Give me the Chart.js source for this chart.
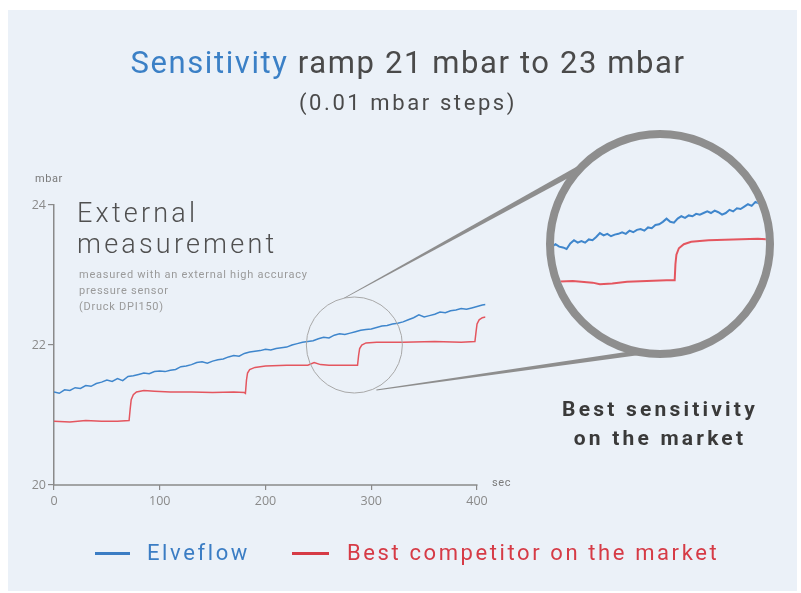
<!DOCTYPE html>
<html>
<head>
<meta charset="utf-8">
<script src="https://cdn.jsdelivr.net/npm/chart.js@4.4.1/dist/chart.umd.min.js"></script>
<style>
  html, body { margin: 0; padding: 0; background: #fff; }
  body { width: 801px; height: 593px; position: relative; overflow: hidden; font-family: Roboto, "Open Sans", sans-serif; }
  #panel { position: absolute; left: 8px; top: 10px; width: 789px; height: 581px; background: #ebf1f8; }
  #main { position: absolute; left: 0; top: 0; }
  .txt { position: absolute; white-space: nowrap; }
  #title { left: 108px; width: 600px; top: 42px; line-height: 42px; font-size: 31px; text-align: center; color: #4a4a4a; letter-spacing: 1.6px; }
  #title span { color: #3b80c6; }
  #subtitle { left: 108px; width: 600px; top: 89px; line-height: 28px; font-size: 22px; text-align: center; color: #4a4a4a; letter-spacing: 2.6px; }
  #ext { left: 77px; top: 198px; line-height: 31px; font-size: 27px; color: #505050; letter-spacing: 3.2px; font-weight: 300; }
  #extNote { left: 79px; top: 267px; line-height: 16px; font-size: 11px; color: #9a9a9a; letter-spacing: 0.75px; }
  #best { left: 530px; width: 260px; top: 395px; line-height: 29px; font-size: 21px; font-weight: 700; text-align: center; color: #3a3a3a; letter-spacing: 3.2px; }
  #unitY { left: 35px; top: 172px; font-size: 11px; color: #7a7a7a; letter-spacing: 0.6px; }
  #unitX { left: 492px; top: 476px; font-size: 11px; color: #7a7a7a; letter-spacing: 0.6px; }
  .legend { position: absolute; top: 538px; line-height: 30px; font-size: 22px; letter-spacing: 2.6px; }
  .legend i { position: absolute; top: 14px; height: 2.5px; }
  #lens { position: absolute; left: 546px; top: 130px; width: 228px; height: 228px; box-sizing: border-box;
          border: 8px solid #8e8e8e; border-radius: 50%; overflow: hidden; background: #ebf1f8; }
  #lens canvas { position: absolute; left: 0; top: 0; }
</style>
</head>
<body>
<div id="panel"></div>
<canvas id="main" width="801" height="593"></canvas>
<div id="lens"><canvas id="inset" width="212" height="212"></canvas></div>

<div class="txt" id="title"><span>Sensitivity</span> ramp 21 mbar to 23 mbar</div>
<div class="txt" id="subtitle">(0.01 mbar steps)</div>
<div class="txt" id="ext">External<br>measurement</div>
<div class="txt" id="extNote">measured with an external high accuracy<br>pressure sensor<br>(Druck DPI150)</div>
<div class="txt" id="best">Best sensitivity<br>on the market</div>
<div class="txt" id="unitY">mbar</div>
<div class="txt" id="unitX">sec</div>
<div class="legend" style="left:95px;color:#3b7dc4"><i style="left:0;width:35px;background:#3b7dc4"></i><span style="margin-left:52px">Elveflow</span></div>
<div class="legend" style="left:292px;color:#d63b46"><i style="left:0;width:37px;background:#d63b46"></i><span style="margin-left:55px">Best competitor on the market</span></div>

<script>
// main plot: time in seconds, pressure in mbar
let blueTime = [0, 5, 10, 15, 20, 25, 30, 35, 40, 45, 50, 55, 60, 65, 70, 75, 80, 85, 90, 95,
    100, 105, 110, 115, 120, 125, 130, 135, 140, 145, 150, 155, 160, 165, 170, 175, 180, 185, 190, 195,
    200, 205, 210, 215, 220, 225, 230, 235, 240, 245, 250, 255, 260, 265, 270, 275, 280, 285, 290, 295,
    300, 305, 310, 315, 320, 325, 330, 335, 340, 345, 350, 355, 360, 365, 370, 375, 380, 385, 390, 395,
    400, 405, 408];
let blueValues = [21.33, 21.31, 21.36, 21.35, 21.39, 21.38, 21.42, 21.41, 21.45, 21.47, 21.50, 21.48, 21.52, 21.49, 21.55, 21.56, 21.58, 21.60, 21.59, 21.62,
    21.63, 21.62, 21.64, 21.65, 21.69, 21.70, 21.72, 21.75, 21.76, 21.74, 21.77, 21.79, 21.80, 21.83, 21.85, 21.84, 21.88, 21.90, 21.91, 21.92,
    21.94, 21.93, 21.95, 21.96, 21.97, 22.00, 22.02, 22.04, 22.05, 22.06, 22.09, 22.11, 22.10, 22.14, 22.16, 22.15, 22.17, 22.19, 22.21, 22.22,
    22.23, 22.25, 22.27, 22.28, 22.30, 22.31, 22.33, 22.36, 22.39, 22.43, 22.40, 22.42, 22.44, 22.47, 22.46, 22.49, 22.50, 22.52, 22.51, 22.53,
    22.55, 22.57, 22.58];

let redTime = [0, 15, 30, 45, 60, 71, 72, 73, 75, 78, 85, 95, 110, 130, 150, 170, 180, 181, 182, 183,
    185, 190, 200, 220, 240, 246, 252, 260, 275, 287, 288, 289, 291, 295, 305, 330, 360, 385, 398, 399,
    400, 402, 405, 408];
let redValues = [20.91, 20.90, 20.92, 20.91, 20.91, 20.92, 21.08, 21.22, 21.29, 21.33, 21.35, 21.34, 21.33, 21.33, 21.32, 21.33, 21.32, 21.31, 21.50, 21.60,
    21.65, 21.68, 21.70, 21.71, 21.71, 21.75, 21.72, 21.71, 21.71, 21.71, 21.85, 21.95, 22.00, 22.03, 22.04, 22.04, 22.05, 22.04, 22.05, 22.18,
    22.30, 22.36, 22.39, 22.40];

let xTicks = [0, 100, 200, 300, 400];
let yTicks = [20, 22, 24];

// zoomed view inside the magnifier
let insetBlueTime = [240, 241.5, 243, 244.5, 246, 247.5, 249, 250.5, 252, 253.5, 255, 256.5, 258, 259.5, 261, 262.5, 264, 265.5, 267, 268.5,
    270, 271.5, 273, 274.5, 276, 277.5, 279, 280.5, 282, 283.5, 285, 286.5, 288, 289.5, 291, 292.5, 294, 295.5, 297, 298.5,
    300, 301.5, 303, 304.5, 306, 307.5, 309, 310.5, 312, 313.5, 315, 316.5, 318, 319.5, 321, 322.5, 324, 325.5, 327, 328.5, 330];
let insetBlueValues = [22.07, 22.06, 22.075, 22.06, 22.055, 22.045, 22.08, 22.10, 22.085, 22.095, 22.085, 22.105, 22.10, 22.12, 22.145, 22.13, 22.14, 22.125, 22.135, 22.14,
    22.15, 22.14, 22.16, 22.15, 22.165, 22.17, 22.16, 22.18, 22.175, 22.195, 22.20, 22.215, 22.235, 22.215, 22.21, 22.235, 22.25, 22.24, 22.255, 22.25,
    22.265, 22.26, 22.27, 22.28, 22.27, 22.285, 22.275, 22.26, 22.27, 22.29, 22.28, 22.30, 22.295, 22.31, 22.325, 22.315, 22.34, 22.33, 22.35, 22.345, 22.36];
let insetRedTime = [242, 250, 258, 261, 266, 272, 280, 288, 291.3, 291.6, 292, 293, 295, 298, 305, 315, 325, 330];
let insetRedValues = [21.84, 21.845, 21.835, 21.825, 21.83, 21.84, 21.845, 21.85, 21.85, 21.95, 22.01, 22.05, 22.075, 22.09, 22.10, 22.105, 22.11, 22.105];

const BLUE = '#3f86cc';
const RED = '#e4565f';
const AXIS = '#8a8a8a';

Chart.defaults.font.family = '"Open Sans", Roboto, sans-serif';

function toPoints(xs, ys) {
    return xs.map((x, i) => ({ x: x, y: ys[i] }));
}

// thin-to-thick connector line of the magnifier
function taper(ctx, a, b, w1, w2) {
    let dx = b[0] - a[0], dy = b[1] - a[1];
    let len = Math.hypot(dx, dy);
    let nx = -dy / len, ny = dx / len;
    ctx.beginPath();
    ctx.moveTo(a[0] + nx * w1 / 2, a[1] + ny * w1 / 2);
    ctx.lineTo(b[0] + nx * w2 / 2, b[1] + ny * w2 / 2);
    ctx.lineTo(b[0] - nx * w2 / 2, b[1] - ny * w2 / 2);
    ctx.lineTo(a[0] - nx * w1 / 2, a[1] - ny * w1 / 2);
    ctx.closePath();
    ctx.fill();
}

const lensDecor = {
    id: 'lensDecor',
    beforeDatasetsDraw(chart) {
        // x axis line stops at the last tick (data runs a bit past it)
        let xs = chart.scales.x, ys = chart.scales.y;
        let ctx = chart.ctx;
        let y0 = Math.round(ys.getPixelForValue(20));
        ctx.save();
        ctx.strokeStyle = AXIS;
        ctx.lineWidth = 1.5;
        ctx.beginPath();
        ctx.moveTo(xs.getPixelForValue(0), y0);
        ctx.lineTo(xs.getPixelForValue(xTicks[xTicks.length - 1]) + 0.5, y0);
        ctx.stroke();
        ctx.restore();
    },
    afterDatasetsDraw(chart) {
        let ctx = chart.ctx;
        let cx = chart.scales.x.getPixelForValue(284);
        let cy = chart.scales.y.getPixelForValue(22.0);
        ctx.save();
        ctx.strokeStyle = '#a8a8a8';
        ctx.lineWidth = 1;
        ctx.beginPath();
        ctx.arc(cx, cy, 48, 0, Math.PI * 2);
        ctx.stroke();
        ctx.fillStyle = '#8e8e8e';
        taper(ctx, [cx - 10, cy - 47], [586, 165], 0.8, 6);
        taper(ctx, [cx + 22, cy + 45], [643, 352], 0.8, 5);
        ctx.restore();
    }
};

new Chart(document.getElementById('main'), {
    type: 'line',
    data: {
        datasets: [
            { label: 'Elveflow', data: toPoints(blueTime, blueValues), borderColor: BLUE, borderWidth: 1.5, pointRadius: 0 },
            { label: 'Best competitor on the market', data: toPoints(redTime, redValues), borderColor: RED, borderWidth: 1.5, pointRadius: 0 }
        ]
    },
    options: {
        responsive: false,
        animation: false,
        devicePixelRatio: 1,
        // plot box: x 54..485.5 (0..408 s), y 205..485
        layout: { padding: { left: 14, top: 205, right: 315.5, bottom: 78 } },
        plugins: { legend: { display: false }, tooltip: { enabled: false } },
        scales: {
            x: {
                type: 'linear', min: 0, max: 408,
                afterBuildTicks: s => { s.ticks = xTicks.map(v => ({ value: v })); },
                afterFit: s => { s.height = 30; },
                ticks: { color: AXIS, font: { size: 12.5 }, padding: 4, maxRotation: 0 },
                grid: { drawOnChartArea: false, drawTicks: true, tickLength: 5, color: AXIS, lineWidth: 1.2 },
                border: { display: false }
            },
            y: {
                type: 'linear', min: 20, max: 24,
                afterBuildTicks: s => { s.ticks = yTicks.map(v => ({ value: v })); },
                afterFit: s => { s.width = 40; },
                ticks: { color: AXIS, font: { size: 12.5 }, padding: 2 },
                grid: { drawOnChartArea: false, drawTicks: true, tickLength: 6, color: AXIS, lineWidth: 1.2 },
                border: { color: AXIS, width: 1.5 }
            }
        }
    },
    plugins: [lensDecor]
});

new Chart(document.getElementById('inset'), {
    type: 'line',
    data: {
        datasets: [
            { data: toPoints(insetBlueTime, insetBlueValues), borderColor: BLUE, borderWidth: 2, pointRadius: 0 },
            { data: toPoints(insetRedTime, insetRedValues), borderColor: RED, borderWidth: 2, pointRadius: 0 }
        ]
    },
    options: {
        responsive: false,
        animation: false,
        devicePixelRatio: 1,
        layout: { padding: 0 },
        plugins: { legend: { display: false }, tooltip: { enabled: false } },
        scales: {
            x: { type: 'linear', min: 242.4, max: 328.3, display: false },
            y: { type: 'linear', min: 21.414, max: 22.739, display: false }
        }
    }
});
</script>
</body>
</html>
